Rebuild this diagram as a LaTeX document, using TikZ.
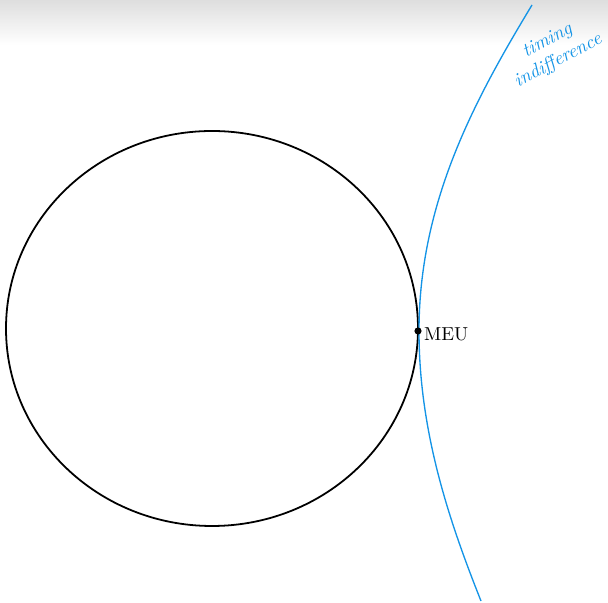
\documentclass[tikz,border=0pt]{standalone}
\usepackage{amsmath,amssymb}
\usepackage{tikz}
\usetikzlibrary{calc,positioning}
\definecolor{indiffblue}{RGB}{20,148,230}

\begin{document}
\begin{tikzpicture}[x=0.01966cm,y=0.01966cm,
		frontier/.style={line width=1pt, black},
		indiff/.style={line width=0.75pt, indiffblue},
		optpoint/.style={circle, fill=black, inner sep=0pt, minimum size=4pt}]
				\useasboundingbox (0,0) rectangle (608,603);
				\shade[top color=black!13, bottom color=white] (0,558) rectangle (608,603);
				
				\draw[frontier] (212,274.5) ellipse [x radius=206, y radius=197.5];
				
				\draw[indiff] (481,2) .. controls (450,80) and (419,170) .. (419,272)
					.. controls (419,400) and (474,502) .. (532,598);
				
				\node[optpoint] (meu) at (418,272) {};
				\node[anchor=west, inner sep=1pt, scale=1.05, yshift=-1.5pt] (meulabel) at (meu.east) {MEU};
				
				\node[indiffblue, rotate=28, align=center, font=\itshape, scale=1.07] (indifflabel) at (553,552) {timing\\indifference};
			\end{tikzpicture}
\end{document}
